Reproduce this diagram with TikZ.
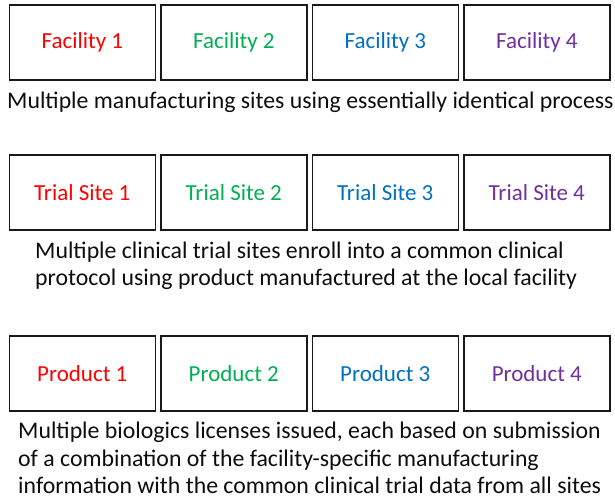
\documentclass[tikz,border=0pt]{standalone}
\usepackage{fontspec}
\setmainfont{Carlito}
\definecolor{cred}{HTML}{FF0000}
\definecolor{cgreen}{HTML}{00B050}
\definecolor{cblue}{HTML}{0070C0}
\definecolor{cpurple}{HTML}{7030A0}
\definecolor{ctext}{HTML}{0D0D0D}
\begin{document}
\begin{tikzpicture}[x=1pt,y=-1pt,
  cell/.style={draw=black!90,line width=1.6pt,minimum width=146pt,minimum height=75pt,
    inner sep=0pt,font=\fontsize{23}{27}\selectfont,anchor=north west},
  caption/.style={anchor=base west,inner sep=0pt,align=left,text=ctext,
    font=\fontsize{23.8}{27.5}\selectfont}]
\useasboundingbox (0,0) rectangle (615,500);
% row 1: facilities
\node[cell,text=cred]    (f1) at (8.5,4)   {Facility 1};
\node[cell,text=cgreen]  (f2) at (160,4)   {Facility 2};
\node[cell,text=cblue]   (f3) at (311.5,4) {Facility 3};
\node[cell,text=cpurple] (f4) at (463,4)   {Facility 4};
% captions are placed by the baseline of their last line
\node[caption] (c1) at (7,108.5) {Multiple manufacturing sites using essentially identical process};
% row 2: trial sites
\node[cell,text=cred]    (t1) at (8.5,154)   {Trial Site 1};
\node[cell,text=cgreen]  (t2) at (160,154)   {Trial Site 2};
\node[cell,text=cblue]   (t3) at (311.5,154) {Trial Site 3};
\node[cell,text=cpurple] (t4) at (463,154)   {Trial Site 4};
\node[caption] (c2) at (35,285.5) {Multiple clinical trial sites enroll into a common clinical\\protocol using product manufactured at the local facility};
% row 3: products
\node[cell,text=cred]    (p1) at (8.5,335)   {Product 1};
\node[cell,text=cgreen]  (p2) at (160,335)   {Product 2};
\node[cell,text=cblue]   (p3) at (311.5,335) {Product 3};
\node[cell,text=cpurple] (p4) at (463,335)   {Product 4};
\node[caption] (c3) at (18,493.5) {Multiple biologics licenses issued, each based on submission\\of a combination of the facility-specific manufacturing\\information with the common clinical trial data from all sites};
\end{tikzpicture}
\end{document}
